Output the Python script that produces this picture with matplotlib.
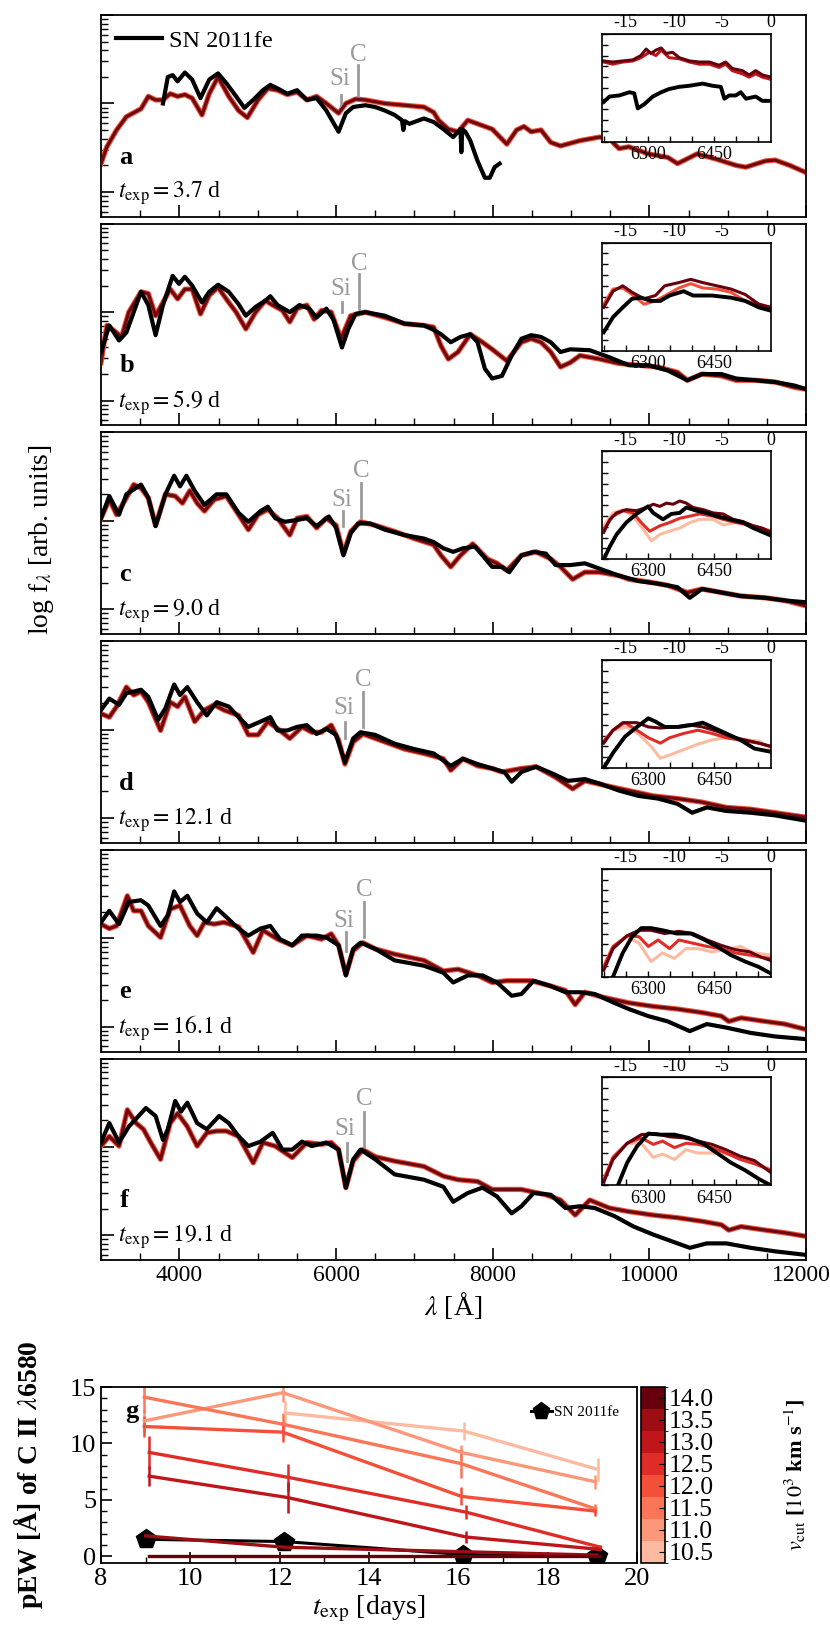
# SN 2011fe spectra vs models, plus C II pEW evolution
import numpy as np
import matplotlib
matplotlib.use("Agg")
import matplotlib.pyplot as plt
from matplotlib.colors import ListedColormap, BoundaryNorm
from matplotlib.cm import ScalarMappable
from matplotlib.ticker import MultipleLocator, NullFormatter, LogLocator
from matplotlib.transforms import ScaledTranslation

plt.rcParams['font.family'] = ['Liberation Serif', 'DejaVu Serif']
plt.rcParams['mathtext.fontset'] = 'stix'

# ---------------- data ----------------
panel_letters = ['a', 'b', 'c', 'd', 'e', 'f']
panel_epochs = ['3.7', '5.9', '9.0', '12.1', '16.1', '19.1']

# main spectra: wavelength [A] and log10 flux (arb.)
a_lam_mod = [3000, 3075, 3199, 3324, 3511, 3604, 3697, 3791, 3884, 3978, 4071, 4164, 4289, 4382, 4494, 4631, 4756, 4868, 5005, 5130, 5254, 5379, 5503, 5628, 5752, 5877, 6033, 6126, 6250, 6375, 6624, 6873, 7122, 7247, 7309, 7434, 7558, 7683, 7870, 7994, 8181, 8305, 8399, 8492, 8617, 8741, 8866, 9115, 9364, 9489, 9613, 9738, 9987, 10236, 10360, 10609, 10858, 11108, 11232, 11481, 11606, 11793, 11998]
a_mod = [0.32, 0.51, 0.70, 0.85, 0.94, 1.08, 1.04, 1.04, 1.11, 1.08, 1.10, 1.06, 0.87, 1.11, 1.30, 1.08, 0.92, 0.84, 1.04, 1.17, 1.15, 1.10, 1.13, 1.04, 1.08, 1.00, 0.89, 1.00, 1.05, 1.04, 1.00, 0.98, 0.96, 0.90, 0.81, 0.71, 0.68, 0.81, 0.75, 0.71, 0.54, 0.70, 0.74, 0.68, 0.70, 0.56, 0.52, 0.58, 0.62, 0.60, 0.49, 0.51, 0.43, 0.39, 0.32, 0.43, 0.37, 0.30, 0.28, 0.35, 0.36, 0.30, 0.22]
a_lam_obs = [3791, 3853, 3915, 3978, 4071, 4164, 4270, 4382, 4494, 4600, 4725, 4831, 4943, 5067, 5161, 5254, 5379, 5503, 5628, 5752, 5877, 6033, 6126, 6219, 6375, 6500, 6624, 6749, 6842, 6860, 6880, 6936, 7122, 7247, 7371, 7496, 7589, 7600, 7612, 7652, 7714, 7807, 7901, 7963, 8025, 8088]
a_obs = [1.00, 1.30, 1.32, 1.25, 1.35, 1.27, 1.06, 1.27, 1.34, 1.23, 1.08, 0.95, 1.04, 1.15, 1.21, 1.17, 1.11, 1.15, 1.04, 1.06, 0.92, 0.68, 0.89, 0.96, 0.98, 0.96, 0.92, 0.87, 0.81, 0.70, 0.80, 0.77, 0.83, 0.79, 0.71, 0.62, 0.71, 0.45, 0.71, 0.68, 0.58, 0.35, 0.16, 0.16, 0.28, 0.32]

b_lam_mod = [3000, 3075, 3168, 3262, 3355, 3511, 3604, 3697, 3791, 3884, 3978, 4071, 4164, 4270, 4382, 4494, 4631, 4725, 4849, 4974, 5098, 5192, 5316, 5410, 5503, 5628, 5721, 5815, 5939, 6064, 6188, 6375, 6624, 6873, 7122, 7247, 7340, 7434, 7558, 7714, 7870, 7994, 8181, 8367, 8492, 8617, 8741, 8866, 8990, 9115, 9364, 9613, 9862, 10111, 10360, 10485, 10672, 10921, 11108, 11357, 11606, 11855, 11998]
b_mod = [0.43, 0.85, 0.79, 0.72, 1.00, 1.23, 1.21, 0.96, 1.11, 1.26, 1.15, 1.26, 1.26, 0.98, 1.19, 1.28, 1.11, 1.00, 0.81, 1.00, 1.13, 1.08, 1.02, 0.89, 1.04, 1.08, 0.92, 1.02, 1.00, 0.70, 0.96, 1.00, 0.94, 0.87, 0.85, 0.83, 0.62, 0.47, 0.55, 0.75, 0.66, 0.58, 0.45, 0.66, 0.70, 0.66, 0.55, 0.38, 0.43, 0.51, 0.47, 0.42, 0.40, 0.38, 0.32, 0.23, 0.30, 0.28, 0.23, 0.23, 0.21, 0.15, 0.13]
b_lam_obs = [3000, 3106, 3230, 3324, 3511, 3604, 3697, 3791, 3915, 3996, 4071, 4164, 4289, 4382, 4494, 4631, 4756, 4849, 4974, 5098, 5161, 5254, 5410, 5534, 5659, 5752, 5877, 5970, 6076, 6157, 6250, 6375, 6624, 6873, 7122, 7247, 7340, 7465, 7589, 7714, 7807, 7901, 7994, 8119, 8243, 8367, 8492, 8617, 8741, 8866, 8990, 9239, 9489, 9738, 9987, 10236, 10485, 10672, 10921, 11108, 11357, 11606, 11855, 11998]
b_obs = [0.55, 0.85, 0.68, 0.77, 1.23, 1.08, 0.74, 1.08, 1.41, 1.32, 1.40, 1.30, 1.11, 1.23, 1.31, 1.23, 1.09, 0.96, 1.06, 1.13, 1.18, 1.08, 1.00, 1.08, 1.04, 0.94, 1.04, 0.91, 0.60, 0.81, 0.98, 1.00, 0.96, 0.87, 0.85, 0.80, 0.75, 0.66, 0.72, 0.75, 0.66, 0.36, 0.25, 0.28, 0.51, 0.70, 0.74, 0.72, 0.66, 0.55, 0.58, 0.57, 0.49, 0.40, 0.40, 0.34, 0.23, 0.30, 0.30, 0.25, 0.23, 0.21, 0.17, 0.13]

c_lam_mod = [3000, 3106, 3199, 3324, 3417, 3511, 3604, 3697, 3822, 3947, 4040, 4133, 4227, 4320, 4445, 4600, 4756, 4881, 5005, 5130, 5254, 5410, 5503, 5628, 5752, 5877, 6001, 6095, 6188, 6313, 6500, 6749, 6998, 7247, 7340, 7465, 7589, 7745, 7932, 8056, 8181, 8367, 8554, 8741, 8866, 9021, 9177, 9364, 9613, 9738, 9987, 10236, 10485, 10672, 10921, 11170, 11481, 11730, 11998]
c_mod = [1.03, 1.24, 1.07, 1.26, 1.41, 1.37, 1.26, 0.95, 1.30, 1.28, 1.20, 1.34, 1.20, 1.11, 1.24, 1.28, 1.07, 0.90, 1.07, 1.13, 1.03, 0.84, 1.03, 1.05, 0.92, 1.03, 0.95, 0.63, 0.88, 0.99, 0.95, 0.88, 0.80, 0.73, 0.61, 0.48, 0.61, 0.74, 0.57, 0.52, 0.44, 0.61, 0.65, 0.57, 0.48, 0.34, 0.42, 0.42, 0.38, 0.34, 0.31, 0.27, 0.19, 0.23, 0.19, 0.15, 0.13, 0.10, 0.04]
c_lam_obs = [3000, 3106, 3230, 3324, 3511, 3604, 3697, 3822, 3934, 4009, 4090, 4196, 4320, 4476, 4600, 4756, 4881, 5036, 5130, 5223, 5348, 5503, 5628, 5752, 5908, 6001, 6095, 6188, 6282, 6437, 6624, 6873, 7122, 7247, 7371, 7496, 7620, 7776, 7870, 7994, 8119, 8212, 8367, 8523, 8679, 8804, 8990, 9177, 9364, 9613, 9862, 10111, 10360, 10516, 10672, 10921, 11170, 11481, 11730, 11998]
c_obs = [1.03, 1.28, 1.07, 1.30, 1.41, 1.26, 0.94, 1.30, 1.51, 1.39, 1.51, 1.34, 1.18, 1.30, 1.30, 1.09, 0.99, 1.11, 1.16, 1.03, 0.99, 1.01, 1.03, 0.94, 1.05, 0.92, 0.61, 0.86, 0.97, 0.97, 0.90, 0.84, 0.80, 0.76, 0.69, 0.65, 0.69, 0.71, 0.61, 0.48, 0.48, 0.42, 0.61, 0.65, 0.63, 0.50, 0.50, 0.52, 0.46, 0.38, 0.32, 0.29, 0.25, 0.13, 0.23, 0.19, 0.15, 0.13, 0.10, 0.08]

d_lam_mod = [3000, 3106, 3199, 3324, 3417, 3511, 3604, 3760, 3884, 3978, 4071, 4196, 4320, 4445, 4569, 4756, 4881, 5005, 5130, 5254, 5410, 5566, 5690, 5815, 5939, 6033, 6114, 6219, 6344, 6624, 6873, 7122, 7371, 7465, 7620, 7807, 7994, 8119, 8367, 8554, 8804, 9021, 9177, 9426, 9738, 10049, 10360, 10672, 10983, 11295, 11606, 11998]
d_mod = [1.18, 1.14, 1.26, 1.48, 1.39, 1.43, 1.31, 0.99, 1.31, 1.26, 1.37, 1.09, 1.22, 1.28, 1.22, 1.16, 0.94, 0.94, 1.09, 1.01, 0.90, 1.03, 0.97, 0.97, 1.05, 0.88, 0.61, 0.86, 0.95, 0.86, 0.78, 0.73, 0.67, 0.54, 0.67, 0.59, 0.56, 0.52, 0.56, 0.58, 0.46, 0.33, 0.42, 0.37, 0.31, 0.25, 0.22, 0.18, 0.12, 0.10, 0.06, 0.01]
d_lam_obs = [3000, 3106, 3230, 3324, 3511, 3604, 3729, 3822, 3934, 4009, 4102, 4227, 4351, 4476, 4631, 4756, 4881, 5036, 5161, 5254, 5379, 5503, 5628, 5752, 5877, 6001, 6114, 6219, 6313, 6500, 6749, 6998, 7247, 7465, 7620, 7807, 7994, 8150, 8243, 8367, 8554, 8772, 8959, 9177, 9364, 9613, 9862, 10111, 10360, 10547, 10734, 10983, 11295, 11606, 11998]
d_obs = [1.22, 1.35, 1.28, 1.41, 1.45, 1.37, 1.11, 1.24, 1.51, 1.39, 1.48, 1.31, 1.16, 1.31, 1.26, 1.14, 1.03, 1.09, 1.14, 0.99, 0.99, 1.03, 1.05, 0.95, 1.01, 0.94, 0.63, 0.90, 0.97, 0.94, 0.84, 0.78, 0.73, 0.59, 0.67, 0.61, 0.56, 0.52, 0.41, 0.52, 0.58, 0.50, 0.42, 0.44, 0.39, 0.31, 0.25, 0.22, 0.16, 0.06, 0.12, 0.08, 0.06, 0.03, -0.03]

e_lam_mod = [3000, 3106, 3199, 3336, 3417, 3511, 3604, 3760, 3884, 4009, 4133, 4227, 4320, 4445, 4569, 4756, 4943, 5067, 5254, 5441, 5628, 5815, 5939, 6033, 6126, 6219, 6344, 6500, 6749, 7122, 7371, 7558, 7807, 7994, 8181, 8492, 8741, 8928, 9053, 9177, 9426, 9738, 10049, 10360, 10672, 10921, 11014, 11170, 11481, 11730, 11998]
e_mod = [1.16, 1.11, 1.14, 1.48, 1.31, 1.31, 1.14, 1.01, 1.33, 1.37, 1.14, 1.03, 1.18, 1.16, 1.18, 1.13, 0.84, 1.09, 0.99, 0.92, 1.03, 0.99, 1.05, 0.92, 0.59, 0.86, 0.95, 0.88, 0.82, 0.75, 0.63, 0.65, 0.58, 0.50, 0.52, 0.52, 0.46, 0.41, 0.25, 0.39, 0.33, 0.27, 0.23, 0.20, 0.16, 0.12, 0.06, 0.10, 0.06, 0.03, -0.03]
e_lam_obs = [3000, 3106, 3230, 3355, 3511, 3604, 3760, 3853, 3934, 4009, 4102, 4227, 4351, 4476, 4600, 4756, 4881, 5036, 5161, 5285, 5441, 5566, 5752, 5877, 6033, 6126, 6219, 6313, 6500, 6749, 7122, 7371, 7496, 7683, 7870, 8056, 8243, 8367, 8523, 8741, 8928, 9115, 9302, 9551, 9738, 9987, 10236, 10516, 10734, 10983, 11295, 11606, 11998]
e_obs = [1.18, 1.31, 1.16, 1.41, 1.43, 1.37, 1.14, 1.26, 1.53, 1.41, 1.48, 1.28, 1.18, 1.34, 1.24, 1.11, 1.03, 1.11, 1.14, 0.99, 0.92, 1.03, 1.03, 1.01, 0.92, 0.58, 0.88, 0.95, 0.88, 0.75, 0.69, 0.61, 0.50, 0.58, 0.58, 0.50, 0.35, 0.37, 0.52, 0.46, 0.39, 0.39, 0.37, 0.27, 0.20, 0.12, 0.06, -0.05, 0.03, -0.01, -0.07, -0.11, -0.14]

f_lam_mod = [3000, 3106, 3230, 3336, 3448, 3542, 3635, 3760, 3884, 3978, 4102, 4227, 4351, 4476, 4600, 4756, 4943, 5067, 5223, 5441, 5628, 5815, 5939, 6033, 6126, 6219, 6344, 6500, 6749, 7122, 7371, 7558, 7807, 7994, 8367, 8679, 8866, 9053, 9239, 9489, 9738, 10049, 10360, 10672, 10921, 11014, 11170, 11481, 11730, 11998]
f_mod = [1.01, 1.12, 1.01, 1.42, 1.27, 1.20, 1.05, 0.86, 1.27, 1.38, 1.23, 1.01, 1.16, 1.18, 1.18, 1.12, 0.82, 1.05, 1.01, 0.88, 1.05, 1.03, 1.05, 0.97, 0.54, 0.84, 0.97, 0.89, 0.84, 0.78, 0.67, 0.63, 0.61, 0.52, 0.52, 0.46, 0.40, 0.23, 0.40, 0.31, 0.27, 0.23, 0.20, 0.16, 0.12, 0.06, 0.10, 0.06, 0.03, -0.01]
f_lam_obs = [3000, 3106, 3230, 3355, 3573, 3697, 3791, 3853, 3947, 4021, 4102, 4227, 4351, 4507, 4631, 4756, 4881, 5036, 5192, 5316, 5441, 5566, 5690, 5877, 6033, 6126, 6219, 6313, 6500, 6749, 7122, 7371, 7496, 7683, 7870, 8056, 8243, 8367, 8523, 8741, 8928, 9115, 9302, 9551, 9800, 10049, 10298, 10516, 10734, 10983, 11295, 11606, 11998]
f_obs = [1.05, 1.27, 1.05, 1.23, 1.44, 1.35, 1.08, 1.20, 1.52, 1.40, 1.50, 1.27, 1.20, 1.35, 1.27, 1.12, 1.01, 1.06, 1.16, 0.97, 0.97, 1.06, 1.01, 1.05, 0.97, 0.54, 0.86, 0.97, 0.86, 0.69, 0.63, 0.55, 0.38, 0.48, 0.54, 0.44, 0.25, 0.33, 0.48, 0.46, 0.31, 0.33, 0.31, 0.22, 0.10, 0.01, -0.07, -0.14, -0.09, -0.09, -0.14, -0.18, -0.22]

# Si II / C II marker wavelengths per panel
si_lam = [6064, 6076, 6095, 6114, 6126, 6138]
c_lam = [6282, 6294, 6325, 6344, 6356, 6356]
si_span = [(0.94, 1.10), (1.00, 1.11), (0.94, 1.11), (0.90, 1.09), (0.86, 1.07), (0.84, 1.05)]
c_span = [(1.06, 1.44), (1.04, 1.43), (1.03, 1.43), (1.03, 1.43), (1.01, 1.41), (0.99, 1.40)]
si_text_y = [1.28, 1.26, 1.24, 1.24, 1.20, 1.20]
c_text_y = [1.55, 1.55, 1.56, 1.56, 1.54, 1.54]

# inset curves around C II 6580: (wavelength, relative flux) pairs
a_in_14 = [(6200, .75), (6220, .74), (6243, .75), (6266, .76), (6284, .80), (6296, .86), (6307, .82), (6318, .85), (6330, .87), (6341, .82), (6356, .83), (6371, .78), (6394, .75), (6416, .74), (6439, .74), (6461, .71), (6476, .74), (6491, .68), (6514, .66), (6529, .62), (6544, .66), (6559, .62), (6578, .60)]
a_in_13 = [(6200, .74), (6220, .72), (6243, .74), (6266, .75), (6284, .78), (6303, .83), (6318, .80), (6330, .85), (6348, .78), (6371, .77), (6394, .74), (6416, .72), (6439, .72), (6461, .69), (6476, .72), (6491, .66), (6514, .63), (6529, .60), (6544, .63), (6559, .60), (6578, .58)]
a_in_obs = [(6200, .37), (6213, .42), (6235, .43), (6258, .46), (6269, .45), (6277, .31), (6292, .35), (6311, .42), (6330, .46), (6348, .49), (6371, .51), (6394, .52), (6424, .54), (6446, .52), (6465, .51), (6473, .40), (6484, .43), (6499, .43), (6510, .46), (6522, .40), (6544, .42), (6559, .38), (6578, .38)]

b_in_14 = [(6200, .40), (6221, .55), (6243, .60), (6264, .54), (6291, .48), (6317, .51), (6338, .60), (6370, .63), (6397, .66), (6424, .63), (6456, .60), (6488, .57), (6520, .52), (6551, .43), (6578, .40)]
b_in_12 = [(6200, .43), (6221, .57), (6243, .58), (6264, .52), (6291, .43), (6317, .46), (6344, .52), (6370, .58), (6397, .62), (6424, .58), (6456, .57), (6488, .54), (6520, .46), (6551, .43), (6578, .40)]
b_in_obs = [(6200, .17), (6221, .31), (6243, .40), (6264, .48), (6285, .49), (6307, .46), (6328, .46), (6349, .51), (6381, .55), (6402, .51), (6445, .51), (6488, .49), (6520, .46), (6551, .40), (6578, .37)]

c_in_14 = [(6200, .25), (6214, .37), (6229, .43), (6251, .46), (6274, .45), (6297, .48), (6312, .51), (6327, .49), (6342, .52), (6357, .51), (6372, .54), (6387, .52), (6402, .48), (6425, .46), (6447, .43), (6470, .42), (6493, .37), (6515, .35), (6538, .31), (6557, .29), (6578, .25)]
c_in_125 = [(6200, .28), (6221, .40), (6244, .45), (6266, .43), (6285, .34), (6304, .26), (6327, .31), (6349, .34), (6372, .38), (6395, .40), (6417, .42), (6447, .40), (6470, .37), (6500, .34), (6530, .32), (6557, .29), (6578, .26)]
c_in_105 = [(6200, .31), (6221, .43), (6244, .46), (6266, .40), (6289, .28), (6308, .17), (6327, .23), (6349, .26), (6372, .29), (6395, .34), (6417, .37), (6447, .37), (6470, .32), (6500, .34), (6530, .31), (6557, .28), (6578, .26)]
c_in_obs = [(6200, .00), (6214, .12), (6229, .23), (6251, .34), (6274, .42), (6289, .46), (6300, .49), (6312, .43), (6334, .37), (6353, .42), (6372, .43), (6387, .48), (6410, .45), (6432, .43), (6455, .40), (6485, .37), (6515, .34), (6538, .29), (6561, .25), (6578, .22)]

d_in_14 = [(6200, .23), (6221, .35), (6243, .42), (6275, .42), (6301, .38), (6328, .37), (6360, .38), (6392, .40), (6424, .38), (6456, .34), (6488, .29), (6520, .26), (6551, .23), (6578, .20)]
d_in_125 = [(6200, .25), (6221, .35), (6248, .42), (6275, .35), (6301, .28), (6328, .23), (6349, .28), (6381, .32), (6413, .35), (6445, .32), (6477, .28), (6520, .25), (6551, .23), (6578, .20)]
d_in_105 = [(6200, .25), (6221, .35), (6253, .38), (6280, .31), (6307, .20), (6328, .09), (6349, .12), (6381, .17), (6413, .22), (6445, .26), (6477, .28), (6520, .26), (6551, .25), (6578, .18)]
d_in_obs = [(6200, .00), (6221, .14), (6248, .29), (6275, .38), (6301, .46), (6317, .43), (6338, .38), (6370, .38), (6402, .40), (6424, .42), (6445, .38), (6477, .32), (6509, .26), (6541, .18), (6578, .15)]

e_in_14 = [(6200, .06), (6221, .26), (6253, .38), (6280, .43), (6307, .43), (6338, .40), (6370, .42), (6402, .40), (6434, .34), (6466, .29), (6498, .25), (6530, .23), (6557, .18), (6578, .15)]
e_in_125 = [(6200, .09), (6221, .28), (6253, .38), (6280, .37), (6301, .28), (6323, .34), (6349, .26), (6370, .34), (6402, .31), (6434, .28), (6466, .26), (6498, .22), (6530, .20), (6557, .18), (6578, .17)]
e_in_105 = [(6200, .11), (6221, .28), (6253, .37), (6280, .31), (6307, .14), (6333, .22), (6360, .17), (6386, .26), (6413, .26), (6445, .23), (6477, .25), (6509, .28), (6541, .22), (6578, .20)]
e_in_obs = [(6221, .00), (6243, .22), (6264, .37), (6285, .45), (6307, .45), (6333, .43), (6365, .40), (6397, .40), (6424, .35), (6456, .28), (6488, .20), (6520, .14), (6551, .09), (6578, .03)]

f_in_14 = [(6200, .03), (6221, .24), (6253, .39), (6285, .47), (6317, .48), (6349, .45), (6381, .44), (6413, .41), (6445, .38), (6477, .33), (6509, .27), (6541, .23), (6578, .12)]
f_in_125 = [(6200, .05), (6221, .26), (6253, .39), (6285, .44), (6312, .38), (6333, .41), (6360, .35), (6386, .39), (6413, .38), (6445, .35), (6477, .30), (6509, .24), (6541, .20), (6578, .14)]
f_in_105 = [(6200, .06), (6221, .27), (6253, .39), (6285, .39), (6312, .26), (6333, .29), (6360, .24), (6386, .33), (6413, .30), (6445, .30), (6477, .29), (6509, .26), (6541, .21), (6578, .15)]
f_in_obs = [(6232, .00), (6253, .21), (6275, .36), (6301, .48), (6328, .47), (6360, .47), (6392, .44), (6424, .39), (6456, .30), (6488, .21), (6520, .14), (6551, .06), (6578, .00)]

# pEW of C II 6580 vs time since explosion
vcuts = [10.5, 11.0, 11.5, 12.0, 12.5, 13.0, 13.5, 14.0]
t_exp = [9.0, 12.1, 16.1, 19.1]
pew_105 = [np.nan, 12.7, 11.1, 7.7]
pew_110 = [12.0, 14.5, 9.2, 6.6]
pew_115 = [14.1, 11.7, 8.2, 4.2]
pew_120 = [11.5, 11.0, 5.3, 4.0]
pew_125 = [9.2, 7.0, 3.9, 0.8]
pew_130 = [7.1, 5.2, 1.7, 0.6]
pew_135 = [1.8, 0.8, 0.4, 0.1]
pew_140 = [0.0, 0.0, 0.0, 0.0]
err_105 = [np.nan, 1.1, 0.8, 1.0]
err_110 = [1.0, 0.8, 0.7, 0.6]
err_115 = [1.4, 1.0, 1.3, 0.4]
err_120 = [0.9, 0.9, 0.8, 0.4]
err_125 = [1.5, 1.2, 0.6, 0.2]
err_130 = [0.9, 1.4, 0.5, 0.2]
err_135 = [0.3, 0.2, 0.1, 0.1]
err_140 = [0.0, 0.0, 0.0, 0.0]
pew_2011fe = [1.5, 1.3, 0.15, 0.05]

# ---------------- plotting ----------------
cmap_cols = plt.cm.Reds(np.linspace(0.25, 1.0, 8))
dark_red = '#6d0a10'
grey = '#9a9a9a'
FS = 17

spectra = [(a_lam_mod, a_mod, a_lam_obs, a_obs), (b_lam_mod, b_mod, b_lam_obs, b_obs),
           (c_lam_mod, c_mod, c_lam_obs, c_obs), (d_lam_mod, d_mod, d_lam_obs, d_obs),
           (e_lam_mod, e_mod, e_lam_obs, e_obs), (f_lam_mod, f_mod, f_lam_obs, f_obs)]
insets = [[(13.0, a_in_13), (14.0, a_in_14)], [(12.0, b_in_12), (14.0, b_in_14)],
          [(10.5, c_in_105), (12.5, c_in_125), (14.0, c_in_14)],
          [(10.5, d_in_105), (12.5, d_in_125), (14.0, d_in_14)],
          [(10.5, e_in_105), (12.5, e_in_125), (14.0, e_in_14)],
          [(10.5, f_in_105), (12.5, f_in_125), (14.0, f_in_14)]]
inset_obs = [a_in_obs, b_in_obs, c_in_obs, d_in_obs, e_in_obs, f_in_obs]

W, H = 830, 1629
fig = plt.figure(figsize=(W / 100, H / 100), dpi=100)

left, right = 101, 806
ptop, ph, gap = 15, 201.7, 7.0

def vel(l):
    return (np.asarray(l) / 6578.0 - 1.0) * 299.792

def lam(v):
    return 6578.0 * (1.0 + np.asarray(v) / 299.792)

for i in range(6):
    top = ptop + i * (ph + gap)
    ax = fig.add_axes([left / W, 1 - (top + ph) / H, (right - left) / W, ph / H])
    lm, fm, lo, fo = spectra[i]
    ax.plot(lm, 10 ** np.array(fm), color=cmap_cols[3], lw=3.8, zorder=2)
    ax.plot(lm, 10 ** np.array(fm), color=dark_red, lw=2.3, zorder=3)
    ln, = ax.plot(lo, 10 ** np.array(fo), color='k', lw=3.0, zorder=4, label='SN 2011fe')
    ax.set_yscale('log')
    ax.set_xlim(3000, 12000)
    ax.set_ylim(10 ** -0.28, 10 ** 2.0)
    ax.set_xticks([4000, 6000, 8000, 10000, 12000])
    ax.xaxis.set_minor_locator(MultipleLocator(500))
    ax.yaxis.set_major_locator(LogLocator(base=10))
    ax.yaxis.set_minor_locator(LogLocator(base=10, subs=np.arange(2, 10)))
    ax.yaxis.set_major_formatter(NullFormatter())
    ax.yaxis.set_minor_formatter(NullFormatter())
    ax.tick_params(which='both', direction='in', top=False, right=False, labelsize=17)
    ax.tick_params(which='major', length=9, width=1.2)
    ax.tick_params(which='minor', length=5, width=1.0)
    for s in ax.spines.values():
        s.set_linewidth(1.3)
    if i < 5:
        ax.tick_params(labelbottom=False)
    else:
        ax.set_xlabel(r'$\lambda$ [Å]', fontsize=20, labelpad=3)
        # keep the last wavelength label inside the canvas
        last = ax.xaxis.get_major_ticks()[-1].label1
        last.set_transform(last.get_transform() +
                           ScaledTranslation(-5 / 100, 0, fig.dpi_scale_trans))

    # Si and C markers
    ax.plot([si_lam[i]] * 2, 10 ** np.array(si_span[i]), color=grey, lw=2)
    ax.plot([c_lam[i]] * 2, 10 ** np.array(c_span[i]), color=grey, lw=2)
    ax.text(si_lam[i] - 20, 10 ** si_text_y[i], 'Si', color=grey, fontsize=18,
            ha='center', va='center')
    ax.text(c_lam[i], 10 ** c_text_y[i], 'C', color=grey, fontsize=18,
            ha='center', va='center')

    ax.text(0.026, 0.295, panel_letters[i], transform=ax.transAxes, fontsize=19,
            fontweight='bold', va='center')
    ax.text(0.024, 0.115, r'$t_{\rm exp} = %s$ d' % panel_epochs[i],
            transform=ax.transAxes, fontsize=FS, va='center')
    if i == 0:
        ax.legend(handles=[ln], loc='upper left', frameon=False, fontsize=17.5,
                  handlelength=1.9, handletextpad=0.3, borderaxespad=0.2)

    # inset around C II 6580
    axin = ax.inset_axes([0.71, 0.371, 0.24, 0.535])
    for vc, pts in insets[i]:
        col = cmap_cols[vcuts.index(vc)]
        pts = np.array(pts)
        axin.plot(pts[:, 0], pts[:, 1], color=col, lw=2.2)
    pts = np.array(inset_obs[i])
    axin.plot(pts[:, 0], pts[:, 1], color='k', lw=2.8)
    axin.set_xlim(6195, 6578)
    axin.set_ylim(0, 1)
    axin.xaxis.set_major_locator(MultipleLocator(150))
    axin.xaxis.set_minor_locator(MultipleLocator(50))
    axin.yaxis.set_major_locator(MultipleLocator(0.1))
    axin.tick_params(which='both', direction='in', length=4.5, width=1.0,
                     labelleft=False, labelsize=13, pad=3)
    for s in axin.spines.values():
        s.set_linewidth(1.2)
    sec = axin.secondary_xaxis('top', functions=(vel, lam))
    sec.set_xticks([-15, -10, -5, 0])
    sec.set_xticklabels(['-15', '-10', '-5', '0'])
    sec.tick_params(length=0, labelsize=13, pad=2)

fig.text(0.05, 1 - 540 / H, r'log f$_\lambda$ [arb. units]', rotation=90,
         fontsize=20, ha='center', va='center')

# ---- pEW panel ----
g_top, g_bot = 1387, 1563
axg = fig.add_axes([left / W, 1 - g_bot / H, 536 / W, (g_bot - g_top) / H])
pews = [pew_105, pew_110, pew_115, pew_120, pew_125, pew_130, pew_135, pew_140]
errs = [err_105, err_110, err_115, err_120, err_125, err_130, err_135, err_140]
shift = [0.02, -0.03, -0.03, -0.03, 0.08, 0.08, 0.0, 0.08]
for k in range(8):
    x = np.array(t_exp) + shift[k]
    axg.errorbar(x, pews[k], yerr=errs[k], color=cmap_cols[k], lw=2.4,
                 elinewidth=1.8, capsize=0)
axg.plot(t_exp, pew_2011fe, '-p', color='k', lw=2.2, ms=15, label='SN 2011fe')
axg.set_xlim(8, 20)
axg.set_ylim(-0.6, 15)
axg.xaxis.set_major_locator(MultipleLocator(2))
axg.xaxis.set_minor_locator(MultipleLocator(1))
axg.yaxis.set_major_locator(MultipleLocator(5))
axg.yaxis.set_minor_locator(MultipleLocator(1))
axg.tick_params(which='both', direction='in', labelsize=19)
axg.tick_params(which='major', length=8, width=1.2)
axg.tick_params(which='minor', length=4, width=1.0)
for s in axg.spines.values():
    s.set_linewidth(1.3)
axg.set_xlabel(r'$t_{\rm exp}$ [days]', fontsize=20, labelpad=3)
axg.set_ylabel(r'pEW [Å] of C II $\lambda$6580', fontsize=20, fontweight='bold')
axg.yaxis.set_label_coords(-0.105, 0.5)
axg.text(8.55, 12.8, 'g', fontsize=19, fontweight='bold', va='center')
axg.legend(loc='upper right', frameon=False, fontsize=11, handlelength=1.4,
           handletextpad=0.1, markerscale=0.85, borderaxespad=0.8)

# colorbar of v_cut
cax = fig.add_axes([641 / W, 1 - g_bot / H, 24 / W, (g_bot - g_top) / H])
bounds = np.arange(10.25, 14.3, 0.5)
norm = BoundaryNorm(bounds, 8)
cb = fig.colorbar(ScalarMappable(norm=norm, cmap=ListedColormap(cmap_cols)),
                  cax=cax, ticks=vcuts)
cb.ax.set_yticklabels(['%.1f' % v for v in vcuts])
cb.ax.tick_params(labelsize=18.5, length=4, direction='in', pad=3)
cb.set_label(r'$v_{\rm cut}$ [$10^3$ km s$^{-1}$]', fontsize=16, fontweight='bold')
cb.ax.yaxis.set_label_coords(5.9, 0.5)
cb.outline.set_linewidth(1.2)

fig.savefig('out.png', dpi=100)
